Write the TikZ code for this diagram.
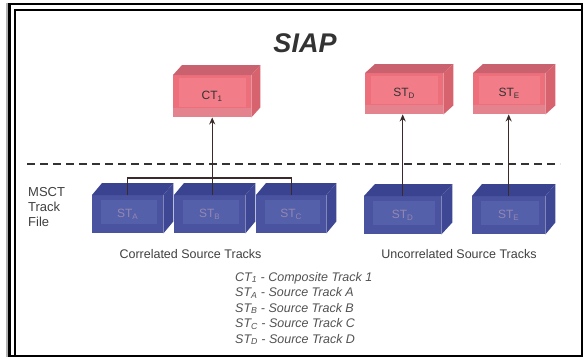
\documentclass[tikz,border=0pt]{standalone}
\usepackage{fontspec}
\setmainfont{Liberation Sans}
\usetikzlibrary{arrows.meta}
\definecolor{pinkfront}{HTML}{EE6F7C}
\definecolor{pinkpanel}{HTML}{F27C88}
\definecolor{pinkband}{HTML}{E4838D}
\definecolor{pinktop}{HTML}{C9626E}
\definecolor{pinkside}{HTML}{D7636F}
\definecolor{bluefront}{HTML}{4953A0}
\definecolor{bluepanel}{HTML}{5560AB}
\definecolor{bluetop}{HTML}{3A438F}
\definecolor{blueside}{HTML}{3E4794}
\definecolor{bluetext}{HTML}{9487B2}
\definecolor{linkcol}{HTML}{3A2A2A}
\definecolor{txt}{HTML}{404040}
\newcommand\cubefaces[5]{%
  \fill[#4] (#1.north west) -- ++(#2,-#3) -- ([shift={(#2,-#3)}]#1.north east) -- (#1.north east) -- cycle;
  \fill[#5] (#1.north east) -- ++(#2,-#3) -- ([shift={(#2,-#3)}]#1.south east) -- (#1.south east) -- cycle;}
\tikzset{
  pinkbox/.style={rectangle, anchor=north west, inner sep=0pt, fill=pinkfront,
    minimum height=42pt, text=black!80, font=\fontsize{12}{14}\selectfont,
    path picture={
      \fill[pinkpanel] ([shift={(6,3)}]path picture bounding box.north west) rectangle ([shift={(-5,-10)}]path picture bounding box.south east);
      \fill[pinkband] ([shift={(0,-9)}]path picture bounding box.south west) rectangle (path picture bounding box.south east);}},
  bluebox/.style={rectangle, anchor=north west, inner sep=0pt, fill=bluefront,
    minimum height=38pt, text=bluetext, font=\fontsize{12}{14}\selectfont,
    path picture={
      \fill[bluepanel] ([shift={(9,5)}]path picture bounding box.north west) rectangle ([shift={(-6,-9)}]path picture bounding box.south east);}},
  link/.style={draw=linkcol, line width=1.3pt},
  arr/.style={link, -{Stealth[length=7pt,width=6pt]}},
  lbl/.style={anchor=base, inner sep=0pt, text=txt, font=\fontsize{12.5}{14}\selectfont},
  legend/.style={anchor=base west, inner sep=0pt, text=black!68, font=\fontsize{12.5}{14}\selectfont\itshape}
}
\begin{document}
\begin{tikzpicture}[x=1pt,y=-1pt]
\useasboundingbox (0,0) rectangle (585,360);
\fill[white] (0,0) rectangle (585,360);
% frame
\draw[black!30, line width=1.2pt] (7,2.5) -- (7,357);
\draw[black, line width=2.6pt] (9.5,4) rectangle (582,356);
\draw[black, line width=2.4pt] (15,356) -- (15,10) -- (582,10);
% title
\node[anchor=base, inner sep=0pt, text=black!80, font=\fontsize{27}{30}\selectfont\bfseries\itshape] (title) at (305,52) {SIAP};
% dashed line
\coordinate (dl) at (27,164);
\coordinate (dr) at (560,164);
\draw[black!80, line width=2pt, dash pattern=on 8pt off 5pt] (dl) -- (dr);
% pink boxes
\node[pinkbox, minimum width=78pt] (ct) at (173,75) {CT\textsubscript{1}};
\cubefaces{ct}{9}{10}{pinktop}{pinkside}
\node[pinkbox, minimum width=78pt, minimum height=41pt] (pD) at (365,73) {ST\textsubscript{D}};
\cubefaces{pD}{10}{9}{pinktop}{pinkside}
\node[pinkbox, minimum width=72pt, minimum height=41pt] (pE) at (473,73) {ST\textsubscript{E}};
\cubefaces{pE}{10}{9}{pinktop}{pinkside}
% blue boxes
\node[bluebox, minimum width=71pt] (bA) at (92,195) {ST\textsubscript{A}};
\cubefaces{bA}{10}{12}{bluetop}{blueside}
\node[bluebox, minimum width=71pt] (bB) at (174,195) {ST\textsubscript{B}};
\cubefaces{bB}{10}{12}{bluetop}{blueside}
\node[bluebox, minimum width=70pt] (bC) at (256,195) {ST\textsubscript{C}};
\cubefaces{bC}{10}{12}{bluetop}{blueside}
\node[bluebox, minimum width=77pt] (bD) at (364,196) {ST\textsubscript{D}};
\cubefaces{bD}{11}{12}{bluetop}{blueside}
\node[bluebox, minimum width=73pt] (bE) at (472,196) {ST\textsubscript{E}};
\cubefaces{bE}{10}{12}{bluetop}{blueside}
% connectors
\draw[link] (bA.north) -- ++(0,-17) -| (bC.north);
\draw[arr] (bB.north -| ct.south) -- (ct.south);
\draw[arr] (bD.north) -- (bD.north |- pD.south);
\draw[arr] (bE.north) -- (bE.north |- pE.south);
% side label
\node[anchor=base west, inner sep=0pt, text=txt, font=\fontsize{13}{15}\selectfont] (m1) at (28,196.5) {MSCT};
\node[anchor=base west, inner sep=0pt, text=txt, font=\fontsize{13}{15}\selectfont] (m2) at (28,211.5) {Track};
\node[anchor=base west, inner sep=0pt, text=txt, font=\fontsize{13}{15}\selectfont] (m3) at (28,226.5) {File};
% group labels
\node[lbl] (cst) at (190.5,258.5) {Correlated Source Tracks};
\node[lbl] (ust) at (459,258.5) {Uncorrelated Source Tracks};
% legend
\node[legend] (l1) at (235,281) {CT\textsubscript{1} - Composite Track 1};
\node[legend] (l2) at (235,296.5) {ST\textsubscript{A} - Source Track A};
\node[legend] (l3) at (235,312) {ST\textsubscript{B} - Source Track B};
\node[legend] (l4) at (235,327.5) {ST\textsubscript{C} - Source Track C};
\node[legend] (l5) at (235,343) {ST\textsubscript{D} - Source Track D};
\end{tikzpicture}
\end{document}
